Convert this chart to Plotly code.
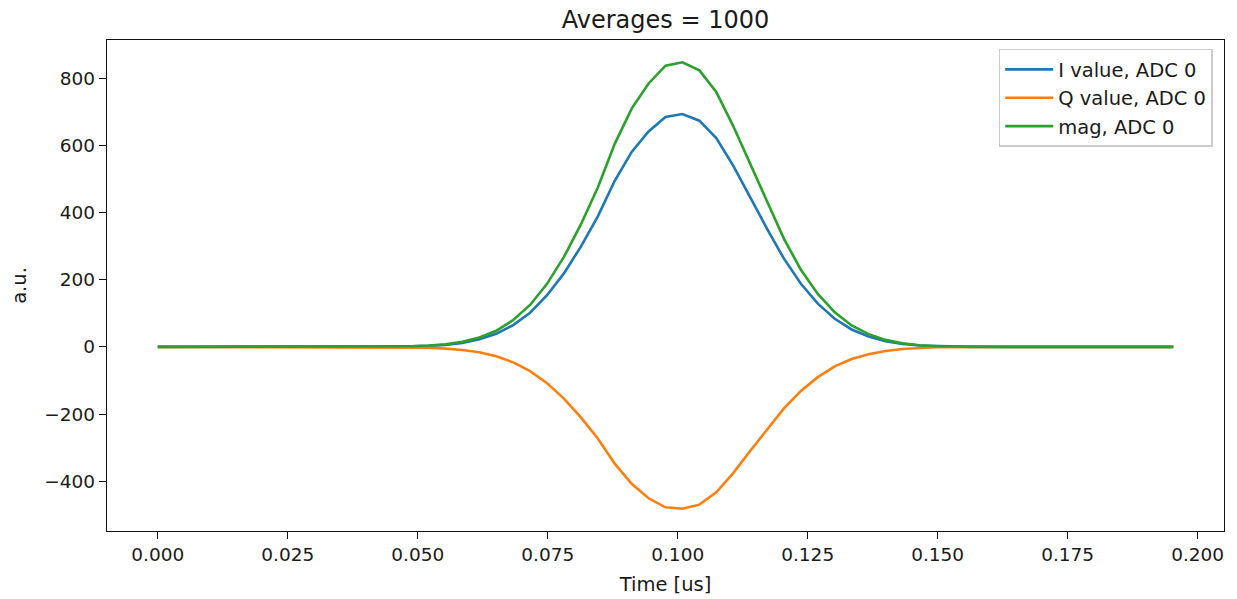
import plotly.graph_objects as go

# sample times (us), ADC sample spacing ~ 1/307.2 MHz
time_us = [round(k / 307.2, 5) for k in range(61)]

i_value = [0]*14 + [1, 2, 3, 6, 12, 23, 39, 65, 102, 154, 219, 299, 389, 495, 581, 642, 685, 694,
                    674, 622, 540, 446, 352, 263, 188, 129, 84, 52, 31, 17, 9, 4, 2, 1] + [0]*13
q_value = [0]*14 + [-1, -1, -2, -5, -9, -16, -28, -46, -72, -108, -154, -210, -273, -348, -408, -451,
                    -478, -482, -470, -433, -376, -310, -245, -183, -131, -90, -58, -36, -22, -12, -6,
                    -3, -1, -1] + [0]*13
mag_value = [0]*14 + [1, 2, 4, 8, 15, 28, 48, 80, 125, 188, 268, 365, 475, 605, 710, 785, 838, 848,
                      824, 760, 658, 545, 430, 322, 230, 158, 103, 64, 38, 21, 11, 5, 2, 1] + [0]*13

series_names = ["I value, ADC 0", "Q value, ADC 0", "mag, ADC 0"]
series_colors = ["#1f77b4", "#ff7f0e", "#2ca02c"]
x_ticks = [0.0, 0.025, 0.05, 0.075, 0.1, 0.125, 0.15, 0.175, 0.2]
y_ticks = [-400, -200, 0, 200, 400, 600, 800]

fig = go.Figure()
for name, vals, col in zip(series_names, [i_value, q_value, mag_value], series_colors):
    fig.add_trace(go.Scatter(x=time_us, y=vals, mode="lines", name=name,
                             line=dict(color=col, width=2.6)))

xmax = max(time_us)
ymin = min(min(q_value), min(i_value), min(mag_value))
ymax = max(max(q_value), max(i_value), max(mag_value))
xpad = 0.05 * xmax
ypad = 0.05 * (ymax - ymin)

font = "DejaVu Sans, sans-serif"
txt = "#1a1a1a"
axis_common = dict(showline=True, linecolor="#111", linewidth=1.4, mirror=True,
                   ticks="outside", ticklen=7, tickwidth=1.4, tickcolor="#111", showgrid=False,
                   zeroline=False, automargin=False,
                   tickfont=dict(family=font, size=18.5, color=txt))

W, H = 1237, 599
L, R, T, B = 107, 13, 40, 68
fig.update_layout(
    width=W, height=H,
    margin=dict(l=L, r=R, t=T, b=B),
    paper_bgcolor="white", plot_bgcolor="white",
    title=dict(text="Averages = 1000", x=(L + W - R) / 2 / W, xanchor="center",
               y=1 - 20 / H, yanchor="middle",
               font=dict(family=font, size=24, color=txt)),
    legend=dict(x=0.99, y=0.982, xanchor="right", yanchor="top", itemwidth=48,
                bgcolor="rgba(255,255,255,0.8)", bordercolor="#cccccc", borderwidth=1.4,
                font=dict(family=font, size=19.5, color=txt), tracegroupgap=0),
    xaxis=dict(range=[-xpad, xmax + xpad], tickvals=x_ticks,
               ticktext=[f"{v:.3f}" for v in x_ticks],
               title=dict(text="Time [us]", font=dict(family=font, size=19.5, color=txt), standoff=12),
               **axis_common),
    yaxis=dict(range=[ymin - ypad, ymax + ypad], tickvals=y_ticks,
               ticktext=[("\u2212" + str(-v)) if v < 0 else str(v) for v in y_ticks],
               title=dict(text="a.u.", font=dict(family=font, size=19.5, color=txt), standoff=12),
               **axis_common),
)

# remove the browser's default body margin so the figure sits at the page origin
fig.write_html("out.html", config={"displayModeBar": False},
               post_script="document.body.style.margin='0';")
